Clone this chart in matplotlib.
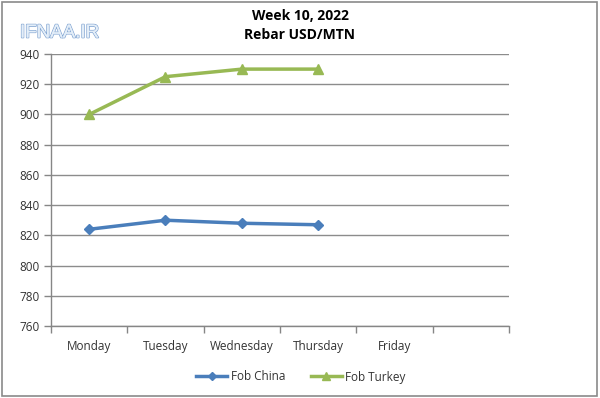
import matplotlib.pyplot as plt
import matplotlib.patheffects as pe
from matplotlib.patches import Rectangle
import numpy as np

days = ['Monday', 'Tuesday', 'Wednesday', 'Thursday', 'Friday', '']
fob_china = [824, 830, 828, 827]
fob_turkey = [900, 925, 930, 930]
y_ticks = list(range(760, 941, 20))

plt.rcParams['font.family'] = ['Open Sans', 'DejaVu Sans']

fig = plt.figure(figsize=(6, 3.98), dpi=100)
ax = fig.add_axes([51 / 600, 72 / 398, 458 / 600, 272 / 398])

x = np.arange(len(fob_china))
ax.plot(x, fob_china, color='#4A7EBB', linewidth=2.5, marker='D', markersize=5.5,
        label='Fob China')
ax.plot(x, fob_turkey, color='#98B954', linewidth=2.5, marker='^', markersize=7,
        label='Fob Turkey')

ax.set_xlim(-0.5, len(days) - 0.5)
ax.set_ylim(760, 940)
ax.set_yticks(y_ticks)
ax.set_xticks(np.arange(len(days)))
ax.set_xticklabels(days)
ax.set_xticks(np.arange(len(days) + 1) - 0.5, minor=True)
ax.tick_params(axis='x', which='major', length=0, pad=10, labelsize=8.5, colors='#333333')
ax.tick_params(axis='x', which='minor', length=5, color='#868686', width=1)
ax.tick_params(axis='y', length=5, color='#868686', width=1, labelsize=8.5,
               labelcolor='#333333', pad=3)

ax.grid(axis='y', color='#8c8c8c', linewidth=1)
ax.set_axisbelow(True)
for side in ['top', 'right']:
    ax.spines[side].set_visible(False)
for side in ['left', 'bottom']:
    ax.spines[side].set_color('#868686')
    ax.spines[side].set_linewidth(1)

fig.text(0.5, 1 - 16 / 398, 'Week 10, 2022', ha='center', va='center',
         fontsize=10, fontweight='bold')
fig.text(0.5, 1 - 35 / 398, 'Rebar USD/MTN', ha='center', va='center',
         fontsize=10, fontweight='bold')

fig.text(20 / 600, 1 - 33 / 398, 'IFNAA.IR', ha='left', va='center', fontsize=13.5,
         color='#e4eef8', family=['Liberation Sans', 'DejaVu Sans'],
         path_effects=[pe.withStroke(linewidth=1.2, foreground='#86a8d4'),
                       pe.Normal()])

fig.legend(loc='center', bbox_to_anchor=(301 / 600, 1 - 377 / 398), ncol=2,
           frameon=False, fontsize=8.5, handlelength=2.6, columnspacing=2.2,
           handletextpad=0.3, labelcolor='#333333', markerscale=0.8)

fig.patches.append(Rectangle((2 / 600, 2 / 398), 595 / 600, 394 / 398,
                             transform=fig.transFigure, fill=False,
                             edgecolor='#8a8a8a', linewidth=1.2))

fig.savefig('out.png', dpi=100)
